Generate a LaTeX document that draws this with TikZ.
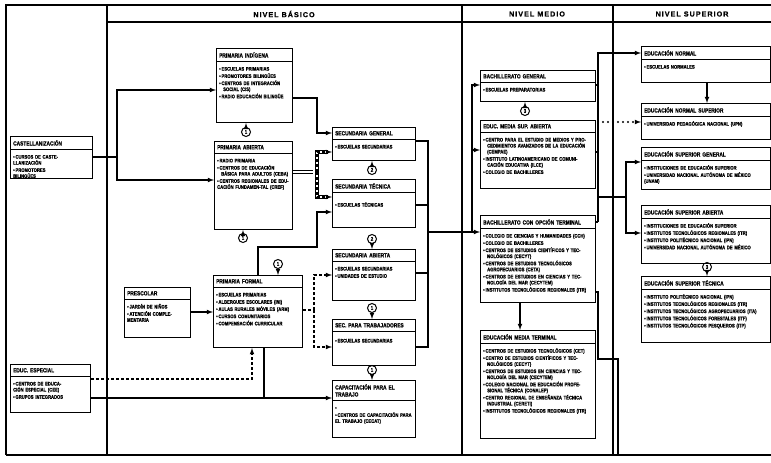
\documentclass[tikz,border=0pt]{standalone}
\usepackage{fontspec}
\setmainfont{Liberation Sans}
\newfontfamily\letra[FakeStretch=0.8, FakeBold=0.8]{Liberation Sans}
\newfontfamily\cabeza[LetterSpace=14, FakeBold=0.8]{Liberation Sans}
\usetikzlibrary{arrows}

\tikzset{
  marco/.style={line width=1.1pt},
  caja/.style={draw, line width=1.1pt, inner sep=0pt},
  titulo/.style={inner xsep=3pt, inner ysep=4pt, align=left,
    font=\letra\bfseries\fontsize{6}{7}\selectfont},
  lista/.style={inner xsep=3pt, inner ysep=1.5pt, align=left,
    font=\letra\bfseries\fontsize{5.2}{6}\selectfont},
  nivel/.style={font=\cabeza\bfseries\fontsize{7.2}{8}\selectfont},
  linea/.style={line width=1.1pt},
  flecha/.style={line width=1.1pt, -latex},
  rayas/.style={line width=1.1pt, dash pattern=on 3pt off 2pt},
  doble/.style={line width=0.8pt, double distance=2.2pt, shorten >=4pt},
  puntos/.style={line width=2.4pt, line cap=round, dash pattern=on 0pt off 5pt, shorten >=5pt},
  numero/.style={circle, draw, line width=1pt, inner sep=0pt, minimum size=9pt,
    font=\letra\bfseries\fontsize{5.5}{5.5}\selectfont}
}

% cuadro con titulo y lista: nombre, x, y, ancho, alto, titulo, lista
\newcommand\recuadro[7]{%
  \node[caja, minimum width=#4pt, minimum height=#5pt, anchor=north west] (#1) at (#2,#3) {};
  \node[titulo, text width=#4pt-6pt, anchor=north west] (#1-t) at (#1.north west) {#6};
  \draw[linea] (#1-t.south -| #1.west) -- (#1-t.south -| #1.east);
  \node[lista, text width=#4pt-6pt, anchor=north west] (#1-l) at (#1-t.south west) {#7};
}
\newcommand\pto{\par\vspace{1.2pt}\hangindent=4pt\hangafter=1\noindent\textbullet\,}

\begin{document}
\begin{tikzpicture}[x=1pt,y=-1pt]
  \useasboundingbox (0,0) rectangle (771,463);
  % marco
  \draw[marco] (5,5) -- (771,5);
  \draw[marco] (107,22) -- (771,22);
  \draw[marco] (6,5) -- (6,455);
  \draw[marco] (107,5) -- (107,455);
  \draw[marco] (462,5) -- (462,455);
  \draw[marco] (613,5) -- (613,455);
  \draw[marco] (6,455) -- (771,455);
  \node[nivel] (nbasico) at (284,14) {NIVEL BÁSICO};
  \node[nivel] (nmedio) at (537,14) {NIVEL MEDIO};
  \node[nivel] (nsuperior) at (692,14) {NIVEL SUPERIOR};

  % nivel basico
  \recuadro{cast}{10}{136}{82}{42}{CASTELLANIZACIÓN}
    {\pto CURSOS DE CASTE-\\LLANIZACIÓN \pto PROMOTORES\\BILINGÜES}
  \recuadro{especial}{10}{364}{80}{48}{EDUC. ESPECIAL}
    {\pto CENTROS DE EDUCA-\\CIÓN ESPECIAL (CEE) \pto GRUPOS INTEGRADOS}
  \recuadro{indig}{216}{48}{76}{74}{PRIMARIA INDÍGENA}
    {\pto ESCUELAS PRIMARIAS \pto PROMOTORES BILINGÜES
     \pto CENTROS DE INTEGRACIÓN SOCIAL (CIS) \pto RADIO EDUCACIÓN BILINGÜE}
  \recuadro{abierta}{214}{141}{78}{88}{PRIMARIA ABIERTA}
    {\pto RADIO PRIMARIA \pto CENTROS DE EDUCACIÓN BÁSICA PARA ADULTOS (CEBA)
     \pto CENTROS REGIONALES DE EDUCACIÓN FUNDAMEN-TAL (CREF)}
  \recuadro{presc}{124}{287}{66}{50}{PRESCOLAR}
    {\pto JARDÍN DE NIÑOS \pto ATENCIÓN COMPLE-\\MENTARIA}
  \recuadro{formal}{213}{275}{89}{72}{PRIMARIA FORMAL}
    {\pto ESCUELAS PRIMARIAS \pto ALBERGUES ESCOLARES (INI)
     \pto AULAS RURALES MÓVILES (ARM) \pto CURSOS COMUNITARIOS
     \pto COMPENSACIÓN CURRICULAR}
  \recuadro{secgen}{332}{127}{83}{33}{SECUNDARIA GENERAL}
    {\pto ESCUELAS SECUNDARIAS}
  \recuadro{sectec}{332}{179}{83}{48}{SECUNDARIA TÉCNICA}
    {\vspace{5pt}\pto ESCUELAS TÉCNICAS}
  \recuadro{secab}{332}{249}{83}{51}{SECUNDARIA ABIERTA}
    {\pto ESCUELAS SECUNDARIAS \pto UNIDADES DE ESTUDIO}
  \recuadro{sectrab}{332}{319}{83}{46}{SEC. PARA TRABAJADORES}
    {\vspace{2pt}\pto ESCUELAS SECUNDARIAS}
  \recuadro{capac}{332}{380}{83}{57}{CAPACITACIÓN PARA EL\\TRABAJO}
    {\pto\mbox{} \pto CENTROS DE CAPACITACIÓN PARA EL TRABAJO (CECAT)}

  % nivel medio
  \recuadro{bachgen}{480}{70}{115}{31}{BACHILLERATO GENERAL}
    {\pto ESCUELAS PREPARATORIAS}
  \recuadro{emsab}{480}{120}{115}{68}{EDUC. MEDIA SUP. ABIERTA}
    {\pto CENTRO PARA EL ESTUDIO DE MEDIOS Y PROCEDIMIENTOS AVANZADOS DE LA EDUCACIÓN (CEMPAE)
     \pto INSTITUTO LATINOAMERICANO DE COMUNICACIÓN EDUCATIVA (ILCE)
     \pto COLEGIO DE BACHILLERES}
  \recuadro{bachot}{480}{215}{115}{87}{BACHILLERATO CON OPCIÓN TERMINAL}
    {\pto COLEGIO DE CIENCIAS Y HUMANIDADES (CCH) \pto COLEGIO DE BACHILLERES
     \pto CENTROS DE ESTUDIOS CIENTÍFICOS Y TECNOLÓGICOS (CECYT)
     \pto CENTROS DE ESTUDIOS TECNOLÓGICOS AGROPECUARIOS (CETA)
     \pto CENTROS DE ESTUDIOS EN CIENCIAS Y TECNOLOGÍA DEL MAR (CECYTEM)
     \pto INSTITUTOS TECNOLÓGICOS REGIONALES (ITR)}
  \recuadro{emt}{480}{330}{115}{108}{EDUCACIÓN MEDIA TERMINAL}
    {\pto CENTROS DE ESTUDIOS TECNOLÓGICOS (CET)
     \pto CENTRO DE ESTUDIOS CIENTÍFICOS Y TECNOLÓGICOS (CECYT)
     \pto CENTROS DE ESTUDIOS EN CIENCIAS Y TECNOLOGÍA DEL MAR (CECYTEM)
     \pto COLEGIO NACIONAL DE EDUCACIÓN PROFESIONAL TÉCNICA (CONALEP)
     \pto CENTRO REGIONAL DE ENSEÑANZA TÉCNICA INDUSTRIAL (CERETI)
     \pto INSTITUTOS TECNOLÓGICOS REGIONALES (ITR)}

  % nivel superior
  \recuadro{normal}{641}{46}{129}{36}{EDUCACIÓN NORMAL}
    {\pto ESCUELAS NORMALES}
  \recuadro{normsup}{641}{103}{129}{36}{EDUCACIÓN NORMAL SUPERIOR}
    {\pto UNIVERSIDAD PEDAGÓGICA NACIONAL (UPN)}
  \recuadro{supgen}{641}{147}{129}{42}{EDUCACIÓN SUPERIOR GENERAL}
    {\pto INSTITUCIONES DE EDUCACIÓN SUPERIOR
     \pto UNIVERSIDAD NACIONAL AUTÓNOMA DE MÉXICO (UNAM)}
  \recuadro{supab}{641}{205}{129}{58}{EDUCACIÓN SUPERIOR ABIERTA}
    {\pto INSTITUCIONES DE EDUCACIÓN SUPERIOR \pto INSTITUTOS TECNOLÓGICOS REGIONALES (ITR)
     \pto INSTITUTO POLITÉCNICO NACIONAL (IPN) \pto UNIVERSIDAD NACIONAL AUTÓNOMA DE MÉXICO}
  \recuadro{suptec}{641}{276}{129}{66}{EDUCACIÓN SUPERIOR TÉCNICA}
    {\pto INSTITUTO POLITÉCNICO NACIONAL (IPN) \pto INSTITUTOS TECNOLÓGICOS REGIONALES (ITR)
     \pto INSTITUTOS TECNOLÓGICOS AGROPECUARIOS (ITA) \pto INSTITUTOS TECNOLÓGICOS FORESTALES (ITF)
     \pto INSTITUTOS TECNOLÓGICOS PESQUEROS (ITP)}

  % numeros
  \node[numero] (n1) at (246,132) {1};
  \node[numero] (n2) at (243,238) {1};
  \node[numero] (n3) at (278,264) {1};
  \node[numero] (n4) at (372,170) {2};
  \node[numero] (n5) at (372,239) {2};
  \node[numero] (n6) at (372,308) {1};
  \node[numero] (n7) at (372,370) {1};
  \node[numero] (n8) at (525,111) {3};
  \node[numero] (n9) at (707,267) {3};
  \draw[flecha] (n1) -- (indig.south -| n1);
  \draw[flecha] (n2) -- (abierta.south -| n2);
  \draw[flecha] (n3) -- (formal.north -| n3);
  \draw[flecha] (n4) -- (secgen.south -| n4);
  \draw[flecha] (n5) -- (secab.north -| n5);
  \draw[flecha] (n6) -- (sectrab.north -| n6);
  \draw[flecha] (n7) -- (capac.north -| n7);
  \draw[flecha] (n8) -- (bachgen.south -| n8);
  \draw[flecha] (n9) -- (suptec.north -| n9);

  % conexiones basico
  \coordinate (bc) at (117,157);
  \draw[linea] (cast.east |- bc) -- (bc);
  \draw[flecha] (bc) |- (indig.west |- 0,90);
  \draw[flecha] (bc) |- (abierta.west |- 0,180);
  \coordinate (bi) at (317,98);
  \draw[flecha] (indig.east |- bi) -- (bi) |- (secgen.west |- 0,133);
  \coordinate (ba) at (317,172);
  \draw[doble] (abierta.east |- ba) -- (ba);
  \draw[doble] (ba) |- (secgen.west |- 0,152);
  \draw[doble] (ba) |- (sectec.west |- 0,197);
  \draw[flecha, rayas] (ba) |- (secgen.west |- 0,152);
  \draw[flecha, rayas] (ba) |- (sectec.west |- 0,197);
  \coordinate (bf) at (258,247);
  \coordinate (bf2) at (317,247);
  \draw[flecha] (formal.north -| bf) -- (bf) -- (bf2) |- (sectec.west |- 0,212);
  \coordinate (bt) at (314,310);
  \draw[rayas] (formal.east |- bt) -- (bt);
  \draw[flecha, rayas] (bt) |- (secab.west |- 0,275);
  \draw[flecha, rayas] (bt) |- (sectrab.west |- 0,347);
  \draw[flecha] (presc.east |- 0,312) -- (formal.west |- 0,312);
  \coordinate (be) at (252,379);
  \draw[flecha, rayas] (especial.east |- be) -| (formal.south -| be);
  \coordinate (bk) at (264,398);
  \draw[flecha] (especial.east |- bk) -- (capac.west |- bk);
  \draw[linea] (formal.south -| bk) -- (bk);

  % secundarias a medio
  \coordinate (bs1) at (428,141);
  \coordinate (bs2) at (428,347);
  \draw[linea] (secgen.east |- bs1) -- (bs1) -- (bs2) -- (sectrab.east |- bs2);
  \draw[linea] (sectec.east |- 0,205) -- (bs1 |- 0,205);
  \draw[linea] (secab.east |- 0,273) -- (bs1 |- 0,273);
  \coordinate (bm) at (472,232);
  \draw[flecha] (bs1 |- bm) -- (bachot.west |- bm);
  \draw[flecha] (bm) |- (bachgen.west |- 0,85);
  \draw[flecha] (bm) |- (emsab.west |- 0,150);

  % medio a superior
  \coordinate (br1) at (598,53);
  \coordinate (br2) at (598,222);
  \draw[flecha] (br2) -- (br1) -- (normal.west |- br1);
  \draw[linea] (bachgen.east |- 0,85) -- (br1 |- 0,85);
  \draw[linea] (emsab.east |- 0,152) -- (br1 |- 0,152);
  \draw[linea] (bachot.east |- br2) -- (br2);
  \coordinate (pn) at (normsup.west |- 0,122);
  \draw[puntos] (br1 |- pn) -- (pn);
  \draw[flecha] ([xshift=-5pt]pn) -- (pn);
  \coordinate (bsup) at (626,197);
  \draw[linea] (br1 |- bsup) -- (bsup);
  \draw[flecha] (bsup) |- (supgen.west |- 0,162);
  \draw[flecha] (bsup) |- (supab.west |- 0,233);
  \coordinate (bx) at (598,359);
  \draw[linea] (bachot.east |- 0,292) -| (bx) -- (618,359) -- (618,455);
  \draw[flecha] (bachot.south -| 520,0) -- (emt.north -| 520,0);
  \draw[flecha] (normal.south -| 707,0) -- (normsup.north -| 707,0);
\end{tikzpicture}
\end{document}
